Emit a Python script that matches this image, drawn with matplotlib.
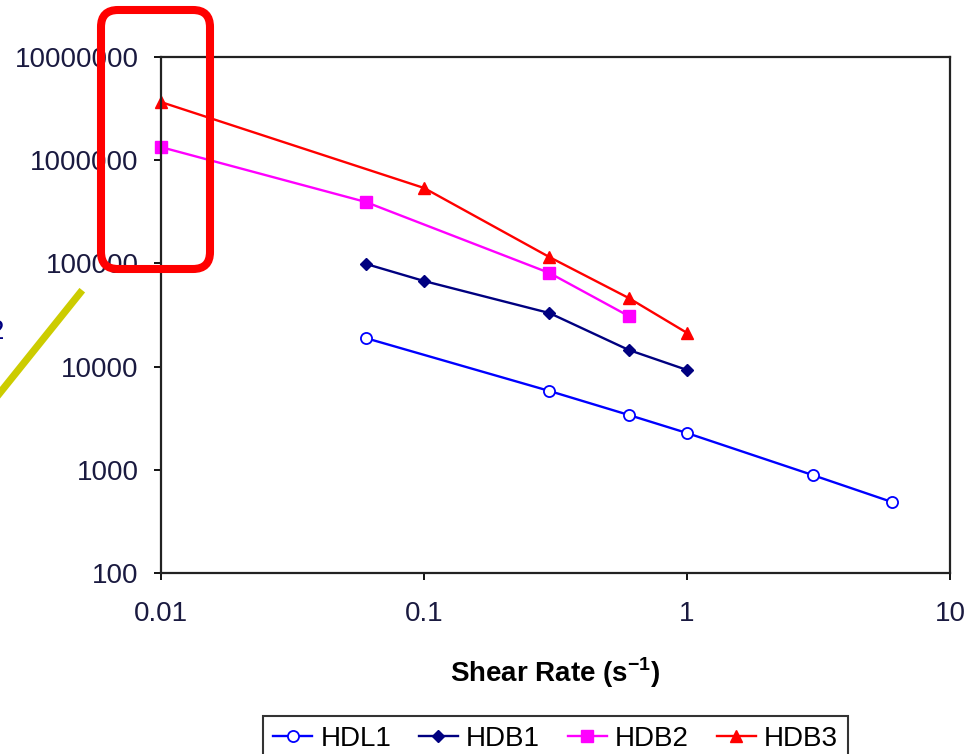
import matplotlib
matplotlib.use("Agg")
import matplotlib.pyplot as plt
from matplotlib.patches import FancyBboxPatch
from matplotlib.lines import Line2D

plt.rcParams['font.family'] = ['Liberation Sans', 'DejaVu Sans']

# data (log-log)
hdl1_x = [0.06, 0.3, 0.6, 1, 3, 6]
hdl1_y = [18900, 5800, 3400, 2270, 890, 488]

hdb1_x = [0.06, 0.1, 0.3, 0.6, 1]
hdb1_y = [99000, 67500, 33000, 14500, 9270]

hdb2_x = [0.01, 0.06, 0.3, 0.6]
hdb2_y = [1340000, 394000, 80700, 30900]

hdb3_x = [0.01, 0.1, 0.3, 0.6, 1]
hdb3_y = [3660000, 538000, 115000, 46200, 21200]

x_ticks = [0.01, 0.1, 1, 10]
x_tick_labels = ["0.01", "0.1", "1", "10"]
y_ticks = [100, 1000, 10000, 100000, 1000000, 10000000]
y_tick_labels = ["100", "1000", "10000", "100000", "1000000", "10000000"]

fig = plt.figure(figsize=(9.65, 7.54), dpi=100)
ax = fig.add_axes([0.1668, 0.2401, 0.8177, 0.6843])

ax.plot(hdl1_x, hdl1_y, color="#0000ff", lw=1.7, marker="o", ms=8,
        mfc="white", mec="#0000ff", mew=1.3, label="HDL1", clip_on=False)
ax.plot(hdb1_x, hdb1_y, color="#000080", lw=1.7, marker="D", ms=6.5,
        mfc="#000080", mec="#000080", label="HDB1", clip_on=False)
ax.plot(hdb2_x, hdb2_y, color="#ff00ff", lw=1.7, marker="s", ms=8,
        mfc="#ff00ff", mec="#ff00ff", label="HDB2", clip_on=False)
ax.plot(hdb3_x, hdb3_y, color="#ff0000", lw=1.7, marker="^", ms=8.5,
        mfc="#ff0000", mec="#ff0000", label="HDB3", clip_on=False)

ax.set_xscale("log")
ax.set_yscale("log")
ax.set_xlim(0.01, 10)
ax.set_ylim(100, 10000000)
ax.set_xticks(x_ticks)
ax.set_xticklabels(x_tick_labels)
ax.set_yticks(y_ticks)
ax.set_yticklabels(y_tick_labels)
ax.minorticks_off()
ax.tick_params(axis="both", direction="out", length=5, width=1.3,
               labelsize=20, top=False, right=False, labelcolor="#1a1a40")
ax.tick_params(axis="y", pad=11)
ax.tick_params(axis="x", pad=15)
for s in ax.spines.values():
    s.set_linewidth(1.6)
    s.set_color("#222222")

ax.set_xlabel("Shear Rate (s$^{\\mathregular{-1}}$)", fontsize=20,
              fontweight="bold", labelpad=21)

leg = fig.legend(loc="upper center", bbox_to_anchor=(0.5757, 0.0504), ncol=4,
                 fontsize=20, frameon=True, fancybox=False, edgecolor="black",
                 handlelength=1.4, handletextpad=0.3, columnspacing=1.0,
                 borderpad=0.35, borderaxespad=0)
leg.get_frame().set_linewidth(1.5)

# annotation overlays from the slide
box = FancyBboxPatch((1.01, 4.85), 1.09, 2.59,
                     boxstyle="round,pad=0,rounding_size=0.17",
                     transform=fig.dpi_scale_trans, fill=False,
                     edgecolor="#ff0000", linewidth=5.8, zorder=10)
fig.patches.append(box)

fig.lines.append(Line2D([80 / 965, -5 / 965], [1 - 293 / 754, 1 - 399 / 754],
                        transform=fig.transFigure, color="#cccc00", lw=5.2))

# fragment of a glyph cut by the left edge of the slide
fig.text(-11 / 965, 1 - 332 / 754, "2", color="#000080", fontsize=20,
         ha="left", va="center")

fig.savefig("out.png", dpi=100)
